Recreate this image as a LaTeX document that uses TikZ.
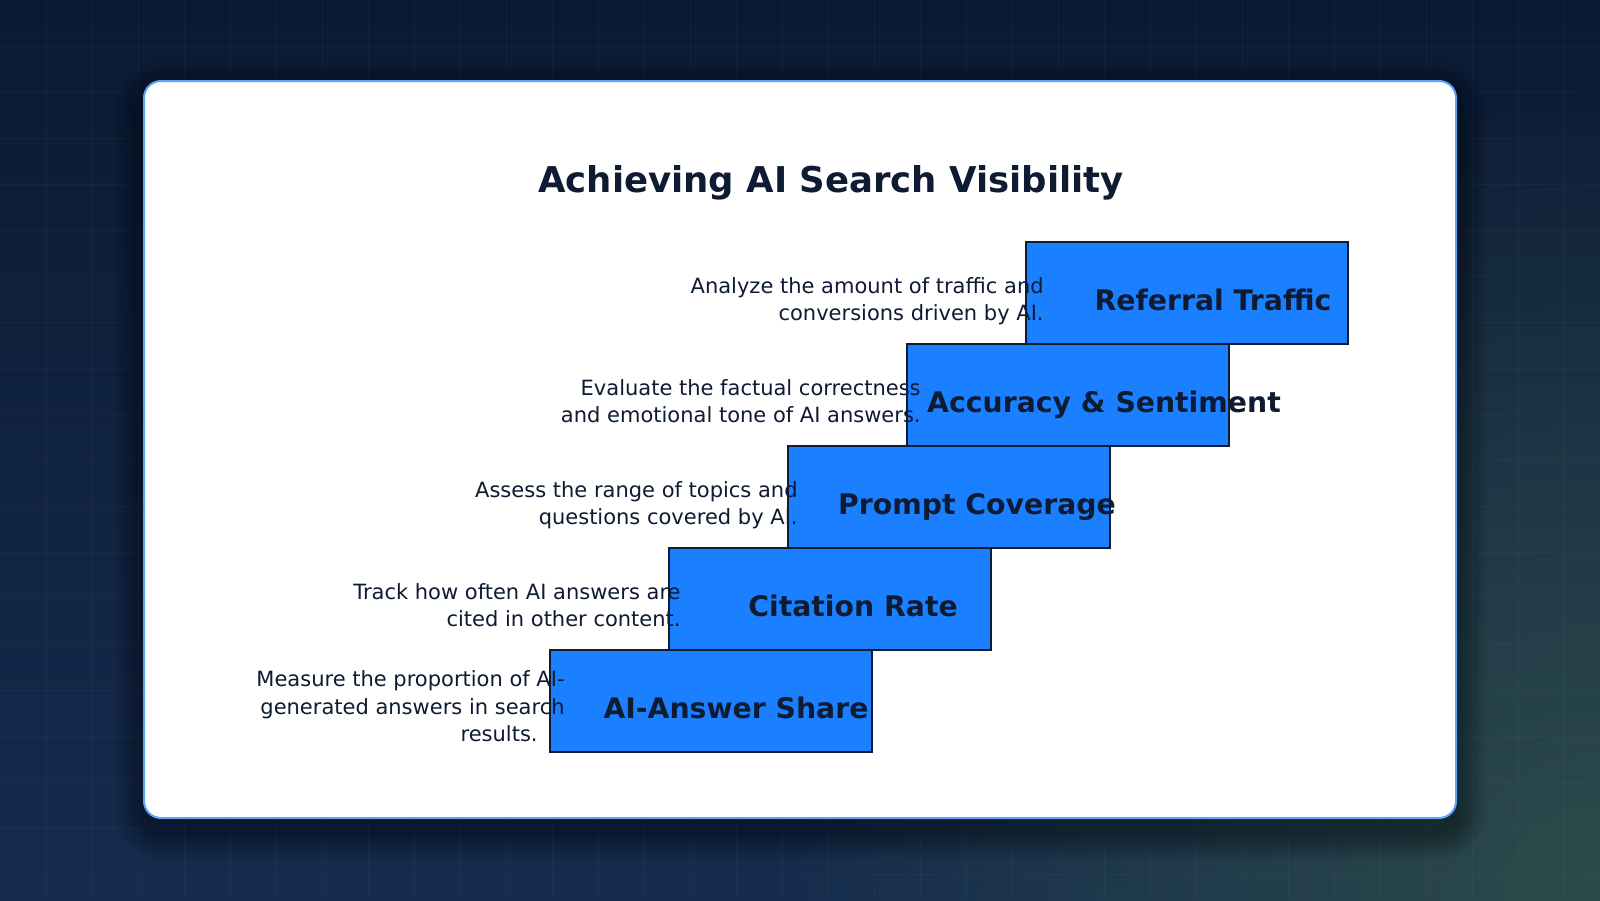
\documentclass[tikz,border=0pt]{standalone}
\usepackage{xcolor}
\usepackage{fontspec}
\setmainfont{DejaVu Sans}
\usepackage{tikz}
\usetikzlibrary{positioning,calc,fadings}

\definecolor{bgtop}{HTML}{0B1A33}
\definecolor{bgbot}{HTML}{152C4E}
\definecolor{glow}{HTML}{2D4B4A}
\definecolor{cardline}{HTML}{5EA3F7}
\definecolor{boxfill}{HTML}{1A80FF}
\definecolor{inkdark}{HTML}{0F1B33}

\tikzfading[name=glowfade, inner color=transparent!0, outer color=transparent!100]

\begin{document}
\begin{tikzpicture}[x=1pt,y=-1pt,
    stepbox/.style={draw=inkdark, line width=2.4pt, fill=boxfill, minimum width=322pt, minimum height=102pt, inner sep=0pt},
    steplabel/.style={anchor=base, text=inkdark, font=\fontsize{28.3}{34}\selectfont\bfseries, inner sep=0pt},
    desc/.style={anchor=base east, align=right, text=inkdark, font=\fontsize{21}{27.7}\selectfont, inner sep=0pt}]
    \useasboundingbox (0,0) rectangle (1600,900);
    % background and grid
    \shade[top color=bgtop, bottom color=bgbot] (0,0) rectangle (1600,900);
    \begin{scope}
        \clip (0,0) rectangle (1600,900);
        \fill[glow, path fading=glowfade] (1600,900) circle (820);
    \end{scope}
    \foreach \g in {46,92,...,1564} \draw[white, opacity=0.03, line width=1pt] (\g,0) -- (\g,900);
    \foreach \g in {46,92,...,874} \draw[white, opacity=0.03, line width=1pt] (0,\g) -- (1600,\g);
    % card with soft shadow
    \foreach \s in {1,...,10} \fill[black, opacity=0.04, rounded corners=17+\s*3] (144-\s*3,81-\s*3+12) rectangle (1456+\s*3,818+\s*3+12);
    \draw[cardline, line width=2pt, fill=white, rounded corners=17] (144,81) rectangle (1456,818);
    \node[anchor=base, text=inkdark, font=\fontsize{35.5}{43}\selectfont\bfseries, inner sep=0pt] (title) at (831,192) {Achieving AI Search Visibility};
    % the five steps
    \node[stepbox] (ais) at (711,701) {};
    \node[stepbox] (cite) at (830,599) {};
    \node[stepbox] (prompt) at (949,497) {};
    \node[stepbox] (acc) at (1068,395) {};
    \node[stepbox] (ref) at (1187,293) {};
    \node[steplabel] (aislbl) at ([xshift=25pt,yshift=-17pt]ais.center) {AI-Answer Share};
    \node[steplabel] (citelbl) at ([xshift=23pt,yshift=-17pt]cite.center) {Citation Rate};
    \node[steplabel] (promptlbl) at ([xshift=28pt,yshift=-17pt]prompt.center) {Prompt Coverage};
    \node[steplabel] (acclbl) at ([xshift=36pt,yshift=-17pt]acc.center) {Accuracy \& Sentiment};
    \node[steplabel] (reflbl) at ([xshift=26pt,yshift=-17pt]ref.center) {Referral Traffic};
    % descriptions
    \node[desc] (aisdesc) at ([xshift=16pt,yshift=-40.7pt]ais.west) {Measure the proportion of AI-\\generated answers in search\\results.\hspace*{27pt}};
    \node[desc] (citedesc) at ([xshift=13pt,yshift=-27.7pt]cite.west) {Track how often AI answers are\\cited in other content.};
    \node[desc] (promptdesc) at ([xshift=11pt,yshift=-27.7pt]prompt.west) {Assess the range of topics and\\questions covered by AI.};
    \node[desc] (accdesc) at ([xshift=15pt,yshift=-27.7pt]acc.west) {Evaluate the factual correctness\\and emotional tone of AI answers.};
    \node[desc] (refdesc) at ([xshift=19pt,yshift=-27.7pt]ref.west) {Analyze the amount of traffic and\\conversions driven by AI.};
\end{tikzpicture}
\end{document}
